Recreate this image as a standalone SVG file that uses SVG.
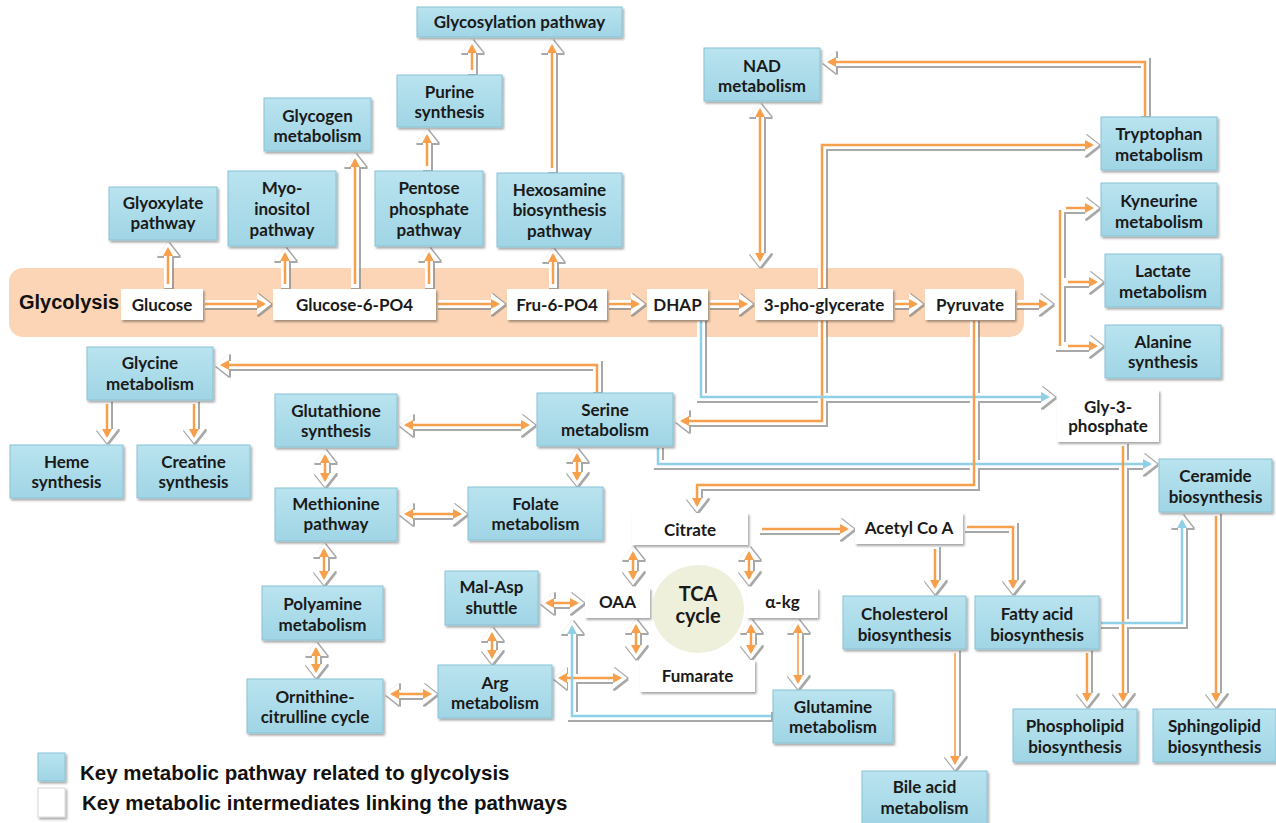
<svg xmlns="http://www.w3.org/2000/svg" width="1276" height="823" viewBox="0 0 1276 823">
<defs>
<linearGradient id="gb" x1="0" y1="0" x2="0" y2="1">
<stop offset="0" stop-color="#b9e3ef"/><stop offset="1" stop-color="#a0d5e5"/>
</linearGradient>
<filter id="sh" x="-10%" y="-10%" width="125%" height="135%">
<feDropShadow dx="1.5" dy="2" stdDeviation="1.2" flood-color="#000" flood-opacity="0.35"/>
</filter>
<filter id="ash" filterUnits="userSpaceOnUse" x="0" y="0" width="1276" height="823">
<feMorphology in="SourceAlpha" operator="dilate" radius="0.7" result="d"/>
<feOffset in="d" dx="1" dy="1.3" result="o"/>
<feGaussianBlur in="o" stdDeviation="0.7" result="b"/>
<feFlood flood-color="#8a8a8a" flood-opacity="0.75"/>
<feComposite in2="b" operator="in" result="s"/>
<feMerge><feMergeNode in="s"/><feMergeNode in="SourceGraphic"/></feMerge>
</filter>
<marker id="mw" markerUnits="userSpaceOnUse" orient="auto-start-reverse" overflow="visible" markerWidth="1" markerHeight="1">
<path d="M-7,-11 L7,0 L-7,11 Z" fill="#fff"/>
</marker>
<marker id="mo" markerUnits="userSpaceOnUse" orient="auto-start-reverse" overflow="visible" markerWidth="1" markerHeight="1">
<path d="M-7,-5 L2,0 L-7,5 Z" fill="#f6a04d"/>
</marker>
<marker id="mb" markerUnits="userSpaceOnUse" orient="auto-start-reverse" overflow="visible" markerWidth="1" markerHeight="1">
<path d="M-7,-5 L2,0 L-7,5 Z" fill="#8fd0e6"/>
</marker>
</defs>
<style>
.bx{fill:url(#gb);stroke:#88c3d6;stroke-width:1;filter:url(#sh)}
.wx{fill:#fff;filter:url(#sh)}
.t{font-family:Lato,"Open Sans","Liberation Sans",sans-serif;font-weight:700;font-size:17px;fill:#1a1a1a;text-anchor:middle}
.tc{font-family:Lato,"Open Sans","Liberation Sans",sans-serif;font-weight:700;font-size:20px;fill:#1a1a1a;text-anchor:middle}
.lg{font-family:"Liberation Sans",Arial,sans-serif;font-weight:700;font-size:20.5px;fill:#111}
.s{fill:none;stroke:#fff;stroke-width:8;marker-end:url(#mw)}
.s.bi{marker-start:url(#mw)}
.s.nh{marker-end:none}
.o{fill:none;stroke:#f6a04d;stroke-width:2.5;marker-end:url(#mo)}
.o.bi{marker-start:url(#mo)}
.o.nh{marker-end:none}
.o.th{stroke-width:1.6}
.u{fill:none;stroke:#8fd0e6;stroke-width:2.5;marker-end:url(#mb)}
</style>
<rect width="1276" height="823" fill="#fff"/>
<g id="glycolysis-band">
<rect x="9" y="268" width="1015" height="69" rx="14" fill="#fbd5b6"/>
<text class="lg" x="19" y="309" style="font-size:20px">Glycolysis</text>
</g>
<g id="connectors">
<g id="shafts" filter="url(#ash)">
<path class="s" d="M205,304 H264"/>
<path class="s" d="M438,304 H498"/>
<path class="s" d="M609,304 H638"/>
<path class="s" d="M710,304 H746"/>
<path class="s" d="M895,304 H916"/>
<path class="s" d="M1017,304 H1046"/>
<path class="s nh" d="M1060,204 V350"/>
<path class="s" d="M1060,208 H1092"/>
<path class="s" d="M1060,282 H1096"/>
<path class="s" d="M1060,346 H1096"/>
<path class="s" d="M168,288 V249"/>
<path class="s" d="M285,288 V254"/>
<path class="s" d="M355,288 V160"/>
<path class="s" d="M429,288 V254"/>
<path class="s" d="M427,170 V136"/>
<path class="s" d="M472,74 V46"/>
<path class="s" d="M552,172 V46"/>
<path class="s" d="M553,288 V255"/>
<path class="s bi" d="M760,110 V260"/>
<path class="s" d="M822,288 V145 H1092"/>
<path class="s" d="M1145,116 V62 H829"/>
<path class="s" d="M822,321 V421 H682"/>
<path class="s" d="M701,321 V397 H1048"/>
<path class="s" d="M658,448 V464 H1150"/>
<path class="s" d="M974,321 V485 H697 V505"/>
<path class="s" d="M597,392 V365 H222"/>
<path class="s" d="M107,402 V436"/>
<path class="s" d="M194,402 V436"/>
<path class="s bi" d="M406,425 H528"/>
<path class="s bi" d="M577,455 V479"/>
<path class="s bi" d="M325,456 V480"/>
<path class="s bi" d="M406,514 H460"/>
<path class="s bi" d="M324,550 V578"/>
<path class="s bi" d="M316,649 V671"/>
<path class="s bi" d="M392,694 H430"/>
<path class="s bi" d="M547,603 H577"/>
<path class="s bi" d="M492,634 V657"/>
<path class="s bi" d="M560,678 H620"/>
<path class="s" d="M771,716 H572 V627"/>
<path class="s bi" d="M633,553 V578"/>
<path class="s bi" d="M749,553 V578"/>
<path class="s bi" d="M636,626 V652"/>
<path class="s bi" d="M751,626 V652"/>
<path class="s bi" d="M798,626 V682"/>
<path class="s" d="M760,529 H847"/>
<path class="s" d="M935,547 V587"/>
<path class="s" d="M965,527 H1013 V587"/>
<path class="s" d="M955,651 V763"/>
<path class="s" d="M1087,651 V700"/>
<path class="s" d="M1123,444 V700"/>
<path class="s" d="M1216,514 V700"/>
<path class="s" d="M1101,623 H1182 V521"/>
</g>
<g id="lines">
<path class="o" d="M205,304 H264"/>
<path class="o" d="M438,304 H498"/>
<path class="o" d="M609,304 H638"/>
<path class="o" d="M710,304 H746"/>
<path class="o" d="M895,304 H916"/>
<path class="o" d="M1017,304 H1046"/>
<path class="o nh" d="M1060,210 V346"/>
<path class="o" d="M1066,208 H1092"/>
<path class="o" d="M1068,282 H1096"/>
<path class="o" d="M1068,346 H1096"/>
<path class="o" d="M168,284 V249"/>
<path class="o" d="M285,284 V254"/>
<path class="o" d="M355,284 V160"/>
<path class="o" d="M429,284 V254"/>
<path class="o" d="M427,166 V136"/>
<path class="o" d="M472,70 V46"/>
<path class="o" d="M552,168 V46"/>
<path class="o" d="M553,284 V255"/>
<path class="o bi" d="M760,110 V260"/>
<path class="o" d="M822,288 V145 H1092"/>
<path class="o" d="M1145,116 V62 H829"/>
<path class="o" d="M822,321 V421 H682"/>
<path class="u" d="M701,321 V397 H1048"/>
<path class="u" d="M658,448 V464 H1150"/>
<path class="o" d="M974,321 V485 H697 V505"/>
<path class="o" d="M597,392 V365 H222"/>
<path class="o" d="M107,404 V436"/>
<path class="o" d="M194,404 V436"/>
<path class="o bi" d="M406,425 H528"/>
<path class="o bi" d="M577,455 V479"/>
<path class="o bi" d="M325,456 V480"/>
<path class="o bi" d="M406,514 H460"/>
<path class="o bi" d="M324,550 V578"/>
<path class="o bi" d="M316,649 V671"/>
<path class="o bi" d="M392,694 H430"/>
<path class="o bi" d="M547,603 H577"/>
<path class="o bi" d="M492,634 V657"/>
<path class="o bi" d="M560,678 H620"/>
<path class="u" d="M771,716 H572 V627"/>
<path class="o bi" d="M633,553 V578"/>
<path class="o bi" d="M749,553 V578"/>
<path class="o bi" d="M636,626 V652"/>
<path class="o bi" d="M751,626 V652"/>
<path class="o bi th" d="M798,626 V682"/>
<path class="o" d="M762,529 H847"/>
<path class="o" d="M935,549 V587"/>
<path class="o" d="M967,527 H1013 V587"/>
<path class="o th" d="M955,653 V763"/>
<path class="o" d="M1087,653 V700"/>
<path class="o" d="M1123,446 V700"/>
<path class="o" d="M1216,516 V700"/>
<path class="u" d="M1101,623 H1182 V521"/>
</g>
</g>
<g id="n-glycosylation"><rect class="bx" x="417" y="7" width="205" height="30"/><text class="t" x="519.5" y="28">Glycosylation pathway</text></g>
<g id="n-purine"><rect class="bx" x="397" y="75" width="105" height="52"/><text class="t"><tspan x="449.5" y="98">Purine</tspan><tspan x="449.5" y="118">synthesis</tspan></text></g>
<g id="n-glycogen"><rect class="bx" x="264" y="98" width="107" height="53"/><text class="t"><tspan x="317.5" y="122">Glycogen</tspan><tspan x="317.5" y="142">metabolism</tspan></text></g>
<g id="n-glyoxylate"><rect class="bx" x="109" y="187" width="108" height="53"/><text class="t"><tspan x="163" y="209">Glyoxylate</tspan><tspan x="163" y="229">pathway</tspan></text></g>
<g id="n-myoinositol"><rect class="bx" x="228" y="171" width="108" height="75"/><text class="t"><tspan x="282" y="194">Myo-</tspan><tspan x="282" y="215">inositol</tspan><tspan x="282" y="236">pathway</tspan></text></g>
<g id="n-pentose"><rect class="bx" x="375" y="171" width="108" height="75"/><text class="t"><tspan x="429" y="194">Pentose</tspan><tspan x="429" y="215">phosphate</tspan><tspan x="429" y="236">pathway</tspan></text></g>
<g id="n-hexosamine"><rect class="bx" x="497" y="173" width="125" height="74"/><text class="t"><tspan x="559.5" y="196">Hexosamine</tspan><tspan x="559.5" y="216">biosynthesis</tspan><tspan x="559.5" y="237">pathway</tspan></text></g>
<g id="n-nad"><rect class="bx" x="704" y="48" width="116" height="53"/><text class="t"><tspan x="762" y="72">NAD</tspan><tspan x="762" y="92">metabolism</tspan></text></g>
<g id="n-tryptophan"><rect class="bx" x="1101" y="117" width="116" height="53"/><text class="t"><tspan x="1159" y="140">Tryptophan</tspan><tspan x="1159" y="161">metabolism</tspan></text></g>
<g id="n-kyneurine"><rect class="bx" x="1101" y="183" width="116" height="53"/><text class="t"><tspan x="1159" y="207">Kyneurine</tspan><tspan x="1159" y="228">metabolism</tspan></text></g>
<g id="n-lactate"><rect class="bx" x="1105" y="254" width="116" height="53"/><text class="t"><tspan x="1163" y="277">Lactate</tspan><tspan x="1163" y="298">metabolism</tspan></text></g>
<g id="n-alanine"><rect class="bx" x="1105" y="325" width="116" height="53"/><text class="t"><tspan x="1163" y="348">Alanine</tspan><tspan x="1163" y="368">synthesis</tspan></text></g>
<g id="n-glucose"><rect class="wx" x="121" y="289" width="82" height="31"/><text class="t" x="162" y="311">Glucose</text></g>
<g id="n-g6p"><rect class="wx" x="273" y="289" width="163" height="31"/><text class="t" x="354.5" y="311">Glucose-6-PO4</text></g>
<g id="n-f6p"><rect class="wx" x="507" y="289" width="100" height="31"/><text class="t" x="557" y="311">Fru-6-PO4</text></g>
<g id="n-dhap"><rect class="wx" x="647" y="289" width="61" height="31"/><text class="t" x="677.5" y="311">DHAP</text></g>
<g id="n-3pg"><rect class="wx" x="755" y="289" width="138" height="31"/><text class="t" x="824" y="311">3-pho-glycerate</text></g>
<g id="n-pyruvate"><rect class="wx" x="925" y="289" width="90" height="31"/><text class="t" x="970" y="311">Pyruvate</text></g>
<g id="n-glycine"><rect class="bx" x="87" y="347" width="126" height="53"/><text class="t"><tspan x="150" y="369">Glycine</tspan><tspan x="150" y="390">metabolism</tspan></text></g>
<g id="n-heme"><rect class="bx" x="10" y="445" width="113" height="53"/><text class="t"><tspan x="66.5" y="468">Heme</tspan><tspan x="66.5" y="488">synthesis</tspan></text></g>
<g id="n-creatine"><rect class="bx" x="137" y="445" width="113" height="53"/><text class="t"><tspan x="193.5" y="468">Creatine</tspan><tspan x="193.5" y="488">synthesis</tspan></text></g>
<g id="n-glutathione"><rect class="bx" x="275" y="394" width="122" height="53"/><text class="t"><tspan x="336" y="417">Glutathione</tspan><tspan x="336" y="437">synthesis</tspan></text></g>
<g id="n-serine"><rect class="bx" x="537" y="393" width="136" height="53"/><text class="t"><tspan x="605" y="416">Serine</tspan><tspan x="605" y="436">metabolism</tspan></text></g>
<g id="n-g3p"><rect class="wx" x="1057" y="390" width="102" height="52"/><text class="t"><tspan x="1108" y="413">Gly-3-</tspan><tspan x="1108" y="432">phosphate</tspan></text></g>
<g id="n-ceramide"><rect class="bx" x="1159" y="459" width="113" height="53"/><text class="t"><tspan x="1215.5" y="482">Ceramide</tspan><tspan x="1215.5" y="503">biosynthesis</tspan></text></g>
<g id="n-methionine"><rect class="bx" x="275" y="488" width="122" height="53"/><text class="t"><tspan x="336" y="510">Methionine</tspan><tspan x="336" y="530">pathway</tspan></text></g>
<g id="n-folate"><rect class="bx" x="468" y="487" width="135" height="53"/><text class="t"><tspan x="535.5" y="510">Folate</tspan><tspan x="535.5" y="530">metabolism</tspan></text></g>
<g id="n-citrate"><rect class="wx" x="632" y="513" width="116" height="32"/><text class="t" x="690" y="536">Citrate</text></g>
<g id="n-acetylcoa"><rect class="wx" x="855" y="513" width="108" height="31"/><text class="t" x="909" y="534">Acetyl Co A</text></g>
<g id="n-malasp"><rect class="bx" x="445" y="571" width="93" height="54"/><text class="t"><tspan x="491.5" y="593">Mal-Asp</tspan><tspan x="491.5" y="614">shuttle</tspan></text></g>
<g id="n-oaa"><rect class="wx" x="585" y="588" width="65" height="30"/><text class="t" x="617.5" y="608">OAA</text></g>
<g id="n-tca"><ellipse cx="698" cy="609" rx="46" ry="44" fill="#eef0dc"/><text class="tc"><tspan x="698" y="601">TCA</tspan><tspan x="698" y="623">cycle</tspan></text></g>
<g id="n-akg"><rect class="wx" x="747" y="588" width="71" height="30"/><text class="t" x="782.5" y="608">α-kg</text></g>
<g id="n-cholesterol"><rect class="bx" x="843" y="596" width="123" height="53"/><text class="t"><tspan x="904.5" y="620">Cholesterol</tspan><tspan x="904.5" y="641">biosynthesis</tspan></text></g>
<g id="n-fattyacid"><rect class="bx" x="975" y="596" width="124" height="53"/><text class="t"><tspan x="1037" y="620">Fatty acid</tspan><tspan x="1037" y="641">biosynthesis</tspan></text></g>
<g id="n-polyamine"><rect class="bx" x="262" y="586" width="121" height="54"/><text class="t"><tspan x="322.5" y="610">Polyamine</tspan><tspan x="322.5" y="631">metabolism</tspan></text></g>
<g id="n-arg"><rect class="bx" x="438" y="665" width="114" height="53"/><text class="t"><tspan x="495" y="689">Arg</tspan><tspan x="495" y="709">metabolism</tspan></text></g>
<g id="n-fumarate"><rect class="wx" x="640" y="660" width="115" height="32"/><text class="t" x="697.5" y="682">Fumarate</text></g>
<g id="n-glutamine"><rect class="bx" x="773" y="690" width="120" height="53"/><text class="t"><tspan x="833" y="713">Glutamine</tspan><tspan x="833" y="733">metabolism</tspan></text></g>
<g id="n-ornithine"><rect class="bx" x="247" y="679" width="136" height="54"/><text class="t"><tspan x="315" y="703">Ornithine-</tspan><tspan x="315" y="723">citrulline cycle</tspan></text></g>
<g id="n-phospholipid"><rect class="bx" x="1013" y="709" width="124" height="53"/><text class="t"><tspan x="1075" y="732">Phospholipid</tspan><tspan x="1075" y="753">biosynthesis</tspan></text></g>
<g id="n-sphingolipid"><rect class="bx" x="1153" y="709" width="123" height="53"/><text class="t"><tspan x="1214.5" y="732">Sphingolipid</tspan><tspan x="1214.5" y="753">biosynthesis</tspan></text></g>
<g id="n-bileacid"><rect class="bx" x="862" y="771" width="125" height="56"/><text class="t"><tspan x="924.5" y="793">Bile acid</tspan><tspan x="924.5" y="814">metabolism</tspan></text></g>
<g id="legend">
<rect class="bx" x="38" y="753" width="27" height="28"/>
<rect class="wx" x="38" y="788" width="27" height="29" stroke="#d8d8d8" stroke-width="1"/>
<text class="lg" x="80" y="780">Key metabolic pathway related to glycolysis</text>
<text class="lg" x="82" y="810">Key metabolic intermediates linking the pathways</text>
</g>
</svg>
